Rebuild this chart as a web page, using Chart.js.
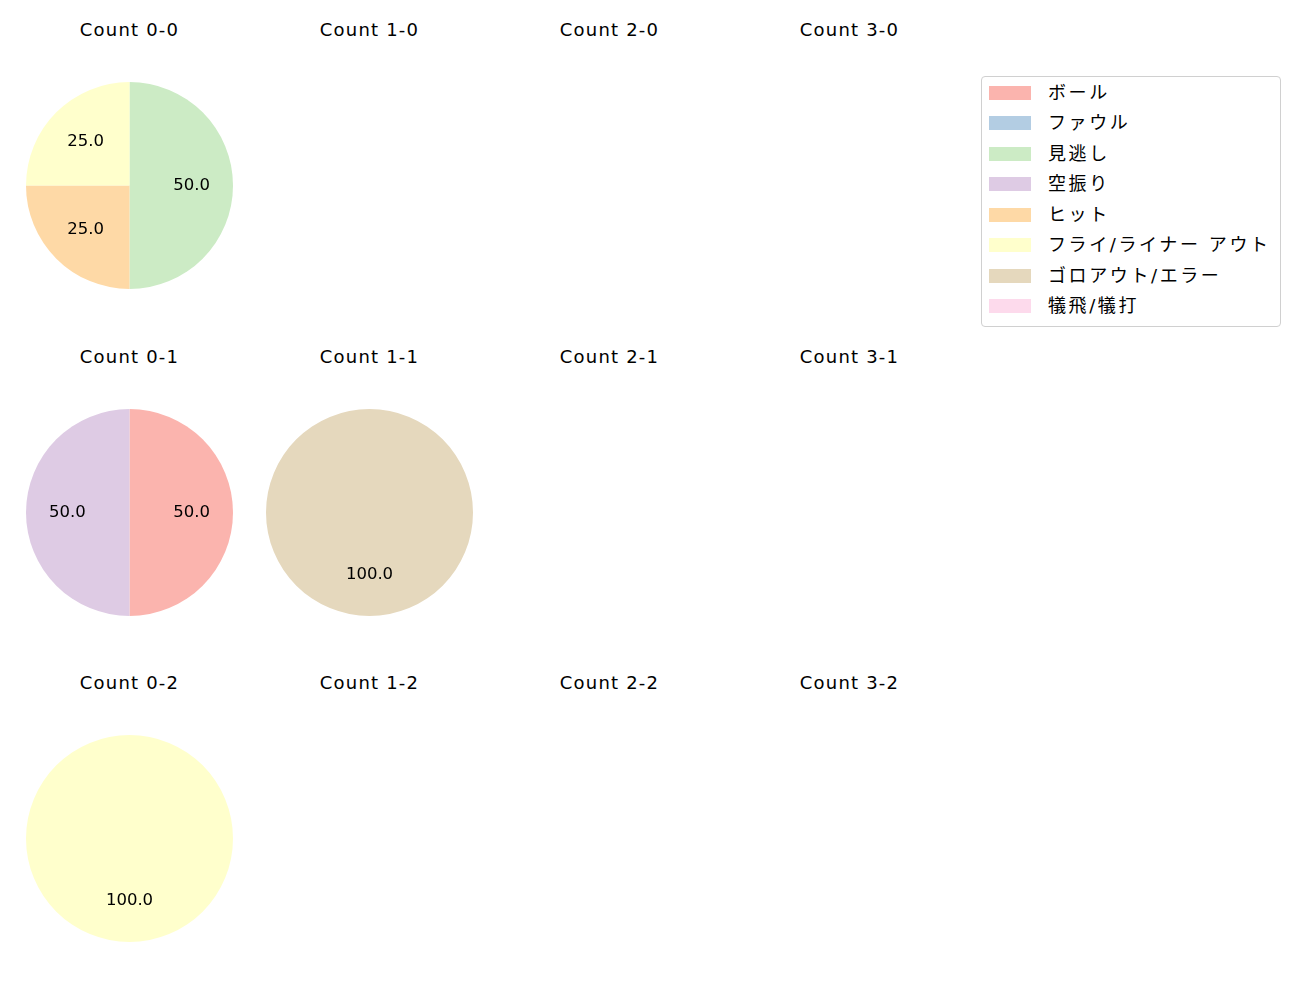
<!DOCTYPE html>
<html>
<head>
<meta charset="utf-8">
<script src="https://cdn.jsdelivr.net/npm/chart.js@4"></script>
<style>
  body { margin: 0; background: #fff; font-family: "DejaVu Sans", "Noto Sans CJK JP", sans-serif; }
  #wrap { position: relative; width: 1300px; height: 1000px; }
  .ttl { position: absolute; width: 200px; text-align: center; font-size: 18px; letter-spacing: 1.2px; color: #000; line-height: 20px; }
  .pie { position: absolute; }
  #legend { position: absolute; left: 981px; top: 76px; width: 298px; height: 249px;
            border: 1px solid #d0d0d0; border-radius: 4px; }
  .item { position: absolute; left: 0; height: 20px; font-size: 18px; line-height: 20px; color: #000; white-space: nowrap; }
  .sw { position: absolute; left: 7px; top: 3px; width: 42px; height: 14px; }
  .lbl { position: absolute; left: 66px; top: 0; letter-spacing: 2.6px; }
</style>
</head>
<body>
<div id="wrap"><div id="legend"></div></div>
<script>
const categories = ["ボール", "ファウル", "見逃し", "空振り", "ヒット", "フライ/ライナー アウト", "ゴロアウト/エラー", "犠飛/犠打"];
const colors = ["#fbb4ae", "#b3cde3", "#ccebc5", "#decbe4", "#fed9a6", "#ffffcc", "#e5d8bd", "#fddaec"];

// percentages per count, order follows categories
const count00 = [0, 0, 50, 0, 25, 25, 0, 0];
const count10 = [0, 0, 0, 0, 0, 0, 0, 0];
const count20 = [0, 0, 0, 0, 0, 0, 0, 0];
const count30 = [0, 0, 0, 0, 0, 0, 0, 0];
const count01 = [50, 0, 0, 50, 0, 0, 0, 0];
const count11 = [0, 0, 0, 0, 0, 0, 100, 0];
const count21 = [0, 0, 0, 0, 0, 0, 0, 0];
const count31 = [0, 0, 0, 0, 0, 0, 0, 0];
const count02 = [0, 0, 0, 0, 0, 100, 0, 0];
const count12 = [0, 0, 0, 0, 0, 0, 0, 0];
const count22 = [0, 0, 0, 0, 0, 0, 0, 0];
const count32 = [0, 0, 0, 0, 0, 0, 0, 0];

const panels = [
  ["Count 0-0", count00], ["Count 1-0", count10], ["Count 2-0", count20], ["Count 3-0", count30],
  ["Count 0-1", count01], ["Count 1-1", count11], ["Count 2-1", count21], ["Count 3-1", count31],
  ["Count 0-2", count02], ["Count 1-2", count12], ["Count 2-2", count22], ["Count 3-2", count32]
];

// value labels at 0.6 of the radius
const pctLabels = {
  id: "pctLabels",
  afterDatasetsDraw(chart) {
    const ctx = chart.ctx;
    const meta = chart.getDatasetMeta(0);
    const vals = chart.data.datasets[0].data;
    ctx.save();
    ctx.font = '16.5px "DejaVu Sans", sans-serif';
    ctx.fillStyle = "#000";
    ctx.textAlign = "center";
    ctx.textBaseline = "middle";
    meta.data.forEach((arc, i) => {
      if (!vals[i]) return;
      const p = arc.getProps(["x", "y", "startAngle", "endAngle", "outerRadius"], true);
      const mid = (p.startAngle + p.endAngle) / 2;
      const r = p.outerRadius * 0.6;
      ctx.fillText(vals[i].toFixed(1), p.x + Math.cos(mid) * r, p.y + Math.sin(mid) * r);
    });
    ctx.restore();
  }
};

const wrap = document.getElementById("wrap");
const size = 207;

panels.forEach(([title, vals], k) => {
  const col = k % 4, row = Math.floor(k / 4);
  const cx = 129.5 + 240 * col;
  const cy = 185.5 + 326.5 * row;

  const t = document.createElement("div");
  t.className = "ttl";
  t.textContent = title;
  t.style.left = (cx - 100) + "px";
  t.style.top = (20 + 326.5 * row) + "px";
  wrap.appendChild(t);

  const cv = document.createElement("canvas");
  cv.className = "pie";
  cv.width = size; cv.height = size;
  cv.style.left = (cx - size / 2) + "px";
  cv.style.top = (cy - size / 2) + "px";
  cv.style.width = size + "px"; cv.style.height = size + "px";
  wrap.appendChild(cv);

  new Chart(cv.getContext("2d"), {
    type: "pie",
    data: {
      labels: categories,
      datasets: [{ data: vals, backgroundColor: colors, borderWidth: 0 }]
    },
    options: {
      responsive: false,
      animation: false,
      layout: { padding: 0 },
      plugins: { legend: { display: false }, tooltip: { enabled: false } }
    },
    plugins: [pctLabels]
  });
});

// legend box
const legend = document.getElementById("legend");
categories.forEach((name, i) => {
  const it = document.createElement("div");
  it.className = "item";
  it.style.top = (5.5 + 30.5 * i) + "px";
  it.innerHTML = '<span class="sw"></span><span class="lbl"></span>';
  it.querySelector(".sw").style.background = colors[i];
  it.querySelector(".lbl").textContent = name;
  legend.appendChild(it);
});
</script>
</body>
</html>
